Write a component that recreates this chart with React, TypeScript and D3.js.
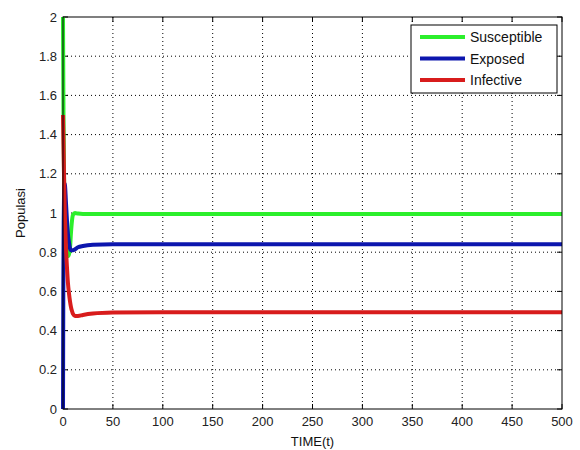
import React from "react";
import * as d3 from "d3";

const timeS = [0, 0.5, 1, 1.5, 2, 3, 4, 5, 6, 7, 8, 9, 10, 12, 15, 20, 30, 50, 100, 200, 300, 400, 500];
const susceptible = [2, 1.5, 1.2, 1.0, 0.9, 0.82, 0.79, 0.78, 0.79, 0.82, 0.9, 0.96, 0.99, 1.0, 0.997, 0.995, 0.995, 0.995, 0.995, 0.995, 0.995, 0.995, 0.995];

const timeE = [0, 0.3, 0.7, 1, 1.5, 2, 3, 4, 5, 6, 7, 8, 10, 12, 15, 20, 30, 50, 100, 200, 300, 400, 500];
const exposed = [0, 0.6, 0.95, 1.08, 1.15, 1.14, 1.05, 0.96, 0.89, 0.85, 0.82, 0.81, 0.81, 0.815, 0.825, 0.832, 0.838, 0.84, 0.84, 0.84, 0.84, 0.84, 0.84];

const timeI = [0, 0.5, 1, 1.5, 2, 3, 4, 5, 6, 7, 8, 9, 10, 12, 15, 20, 30, 50, 100, 200, 300, 400, 500];
const infective = [1.5, 1.35, 1.2, 1.07, 0.97, 0.82, 0.72, 0.64, 0.59, 0.55, 0.52, 0.5, 0.485, 0.475, 0.475, 0.48, 0.487, 0.492, 0.494, 0.494, 0.494, 0.494, 0.494];

const xTicks = [0, 50, 100, 150, 200, 250, 300, 350, 400, 450, 500];
const yTicks = [0, 0.2, 0.4, 0.6, 0.8, 1, 1.2, 1.4, 1.6, 1.8, 2];
const seriesNames = ["Susceptible", "Exposed", "Infective"];
const seriesColors = ["#2cef2c", "#0c16ae", "#d81c1c"];

export default function App() {
  const W = 580, H = 450;
  const L = 63, R = 562, T = 17, B = 409;
  const x = d3.scaleLinear().domain([0, 500]).range([L, R]);
  const y = d3.scaleLinear().domain([0, 2]).range([B, T]);
  const series = [
    { t: timeS, v: susceptible },
    { t: timeE, v: exposed },
    { t: timeI, v: infective },
  ];
  const line = (t: number[], v: number[]) =>
    d3.line<number>().x((_, i) => x(t[i])).y((d) => y(d)).curve(d3.curveMonotoneX)(v) || "";
  const font = "'Liberation Sans', Arial, sans-serif";
  const tk = 5;
  return (
    <svg width={W} height={H} style={{ position: "absolute", left: 0, top: 0, background: "#fff" }} fontFamily={font}>
      <rect x={0} y={0} width={W} height={H} fill="#fff" />
      {xTicks.slice(1, -1).map((v) => (
        <line key={"gx" + v} x1={x(v)} x2={x(v)} y1={T} y2={B} stroke="#000" strokeWidth={1} strokeDasharray="1,3" />
      ))}
      {yTicks.slice(1, -1).map((v) => (
        <line key={"gy" + v} x1={L} x2={R} y1={y(v)} y2={y(v)} stroke="#000" strokeWidth={1} strokeDasharray="1,3" />
      ))}
      {xTicks.map((v) => (
        <g key={"tx" + v}>
          <line x1={x(v)} x2={x(v)} y1={B} y2={B - tk} stroke="#000" />
          <line x1={x(v)} x2={x(v)} y1={T} y2={T + tk} stroke="#000" />
          <text x={x(v)} y={B + 17} textAnchor="middle" fontSize={13} fill="#222">{v}</text>
        </g>
      ))}
      {yTicks.map((v) => (
        <g key={"ty" + v}>
          <line x1={L} x2={L + tk} y1={y(v)} y2={y(v)} stroke="#000" />
          <line x1={R} x2={R - tk} y1={y(v)} y2={y(v)} stroke="#000" />
          <text x={L - 6} y={y(v) + 4.5} textAnchor="end" fontSize={13} fill="#222">{v}</text>
        </g>
      ))}
      <g clipPath="url(#clip)">
        {series.map((s, i) => (
          <path key={i} d={line(s.t, s.v)} fill="none" stroke={seriesColors[i]} strokeWidth={4} strokeLinejoin="round" />
        ))}
      </g>
      <defs>
        <clipPath id="clip">
          <rect x={L - 2} y={T - 2} width={R - L + 4} height={B - T + 4} />
        </clipPath>
      </defs>
      <rect x={L} y={T} width={R - L} height={B - T} fill="none" stroke="#000" strokeWidth={1} />
      <g>
        <rect x={411} y={25} width={146} height={68} fill="#fff" stroke="#000" strokeWidth={1} />
        {seriesNames.map((n, i) => (
          <g key={n}>
            <line x1={420} x2={465} y1={37 + i * 21.5} y2={37 + i * 21.5} stroke={seriesColors[i]} strokeWidth={4} />
            <text x={470} y={37 + i * 21.5 + 5} fontSize={14} fill="#111">{n}</text>
          </g>
        ))}
      </g>
      <text x={(L + R) / 2} y={446} textAnchor="middle" fontSize={13} fill="#111">TIME(t)</text>
      <text transform={`translate(25,${(T + B) / 2}) rotate(-90)`} textAnchor="middle" fontSize={13} fill="#111">Populasi</text>
    </svg>
  );
}
